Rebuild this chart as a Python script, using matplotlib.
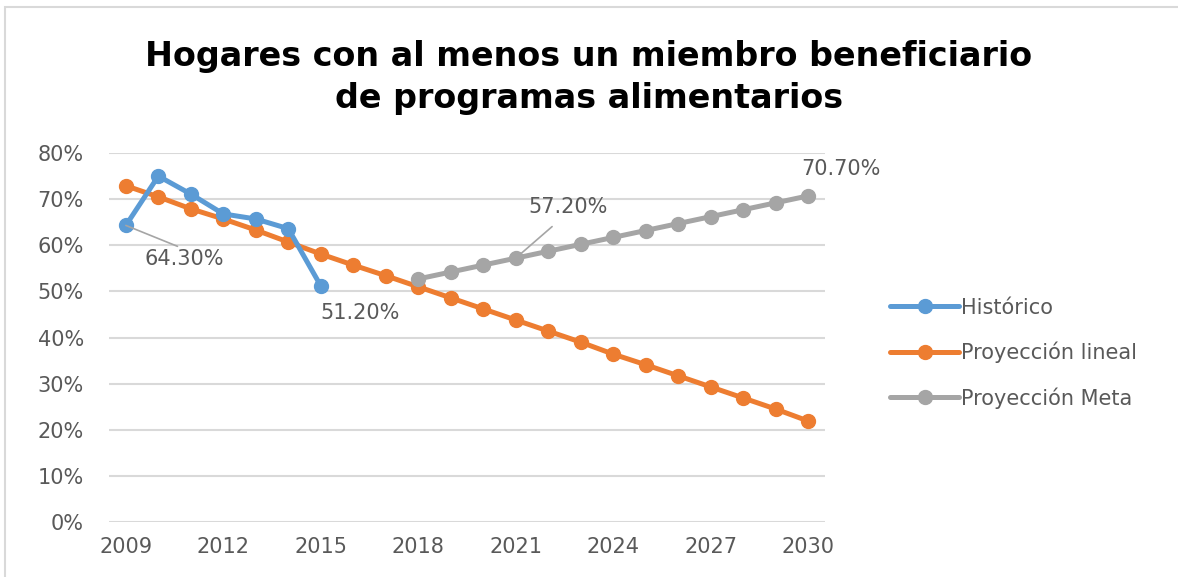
import matplotlib.pyplot as plt
from matplotlib.patches import Rectangle
from matplotlib.ticker import PercentFormatter

# Values (percent)
years_hist = [2009, 2010, 2011, 2012, 2013, 2014, 2015]
historico = [64.3, 75.0, 71.1, 66.8, 65.7, 63.6, 51.2]

years_lin = list(range(2009, 2031))
proy_lineal = [72.9, 70.5, 67.9, 65.7, 63.3, 60.7, 58.1, 55.7, 53.4, 51.0, 48.6,
               46.2, 43.8, 41.4, 39.0, 36.4, 34.1, 31.7, 29.3, 26.9, 24.5, 21.9]

years_meta = list(range(2018, 2031))
proy_meta = [52.7, 54.2, 55.7, 57.2, 58.7, 60.2, 61.7, 63.2, 64.7, 66.2, 67.7,
             69.2, 70.7]

xticks = [2009, 2012, 2015, 2018, 2021, 2024, 2027, 2030]
yticks = [0, 10, 20, 30, 40, 50, 60, 70, 80]

BLUE = '#5B9BD5'
ORANGE = '#ED7D31'
GRAY = '#A5A5A5'
TEXT = '#595959'

plt.rcParams['font.family'] = ['DejaVu Sans']

fig = plt.figure(figsize=(11.78, 5.77), dpi=100)
ax = fig.add_axes([0.0925, 0.0953, 0.6078, 0.6395])

style = dict(linewidth=3.6, marker='o', markersize=10, solid_capstyle='round')
ax.plot(years_hist, historico, color=BLUE, label='Histórico', zorder=3, **style)
ax.plot(years_lin, proy_lineal, color=ORANGE, label='Proyección lineal', zorder=2, **style)
ax.plot(years_meta, proy_meta, color=GRAY, label='Proyección Meta', zorder=2, **style)

ax.set_xlim(2008.48, 2030.52)
ax.set_ylim(0, 80)
ax.set_xticks(xticks)
ax.set_yticks(yticks)
ax.yaxis.set_major_formatter(PercentFormatter(decimals=0))
ax.tick_params(axis='x', length=0, labelsize=15, labelcolor=TEXT, pad=11)
ax.tick_params(axis='y', length=0, labelsize=15, labelcolor=TEXT, pad=18)
ax.grid(axis='y', color='#D9D9D9', linewidth=1.5)
ax.set_axisbelow(True)
for s in ax.spines.values():
    s.set_visible(False)

# data labels
lbl = dict(fontsize=15, color=TEXT, ha='center', va='center')
ax.annotate(f'{historico[0]:.2f}%', xy=(years_hist[0], historico[0]),
            xytext=(2010.8, 57.0), arrowprops=dict(arrowstyle='-', color=GRAY, lw=1.2,
                                                    shrinkA=0, shrinkB=0,
                                                    relpos=(0.5, 1.0)), **lbl)
ax.annotate(f'{historico[-1]:.2f}%', xy=(years_hist[-1], historico[-1]),
            xytext=(2016.2, 45.4), **lbl)
ax.annotate(f'{proy_meta[3]:.2f}%', xy=(years_meta[3], proy_meta[3]),
            xytext=(2022.6, 68.4), arrowprops=dict(arrowstyle='-', color=GRAY, lw=1.2,
                                                    shrinkA=8, shrinkB=0,
                                                    relpos=(0.45, 0.0)), **lbl)
ax.annotate(f'{proy_meta[-1]:.2f}%', xy=(years_meta[-1], proy_meta[-1]),
            xytext=(2031.0, 76.6), annotation_clip=False, **lbl)

leg = fig.legend(loc='center left', bbox_to_anchor=(0.74, 0.388), frameon=False,
                 fontsize=15, labelcolor=TEXT, handlelength=3.3, handletextpad=0.1,
                 labelspacing=1.15)

fig.text(0.5, 0.902, 'Hogares con al menos un miembro beneficiario',
         ha='center', va='center', fontsize=24, fontweight='bold', color='black')
fig.text(0.5, 0.829, 'de programas alimentarios',
         ha='center', va='center', fontsize=24, fontweight='bold', color='black')

# outer chart border
fig.patches.append(Rectangle((0.004, -0.01), 1.02, 0.998, transform=fig.transFigure,
                             fill=False, edgecolor='#D9D9D9', linewidth=1.5))

fig.savefig('out.png', dpi=100)
